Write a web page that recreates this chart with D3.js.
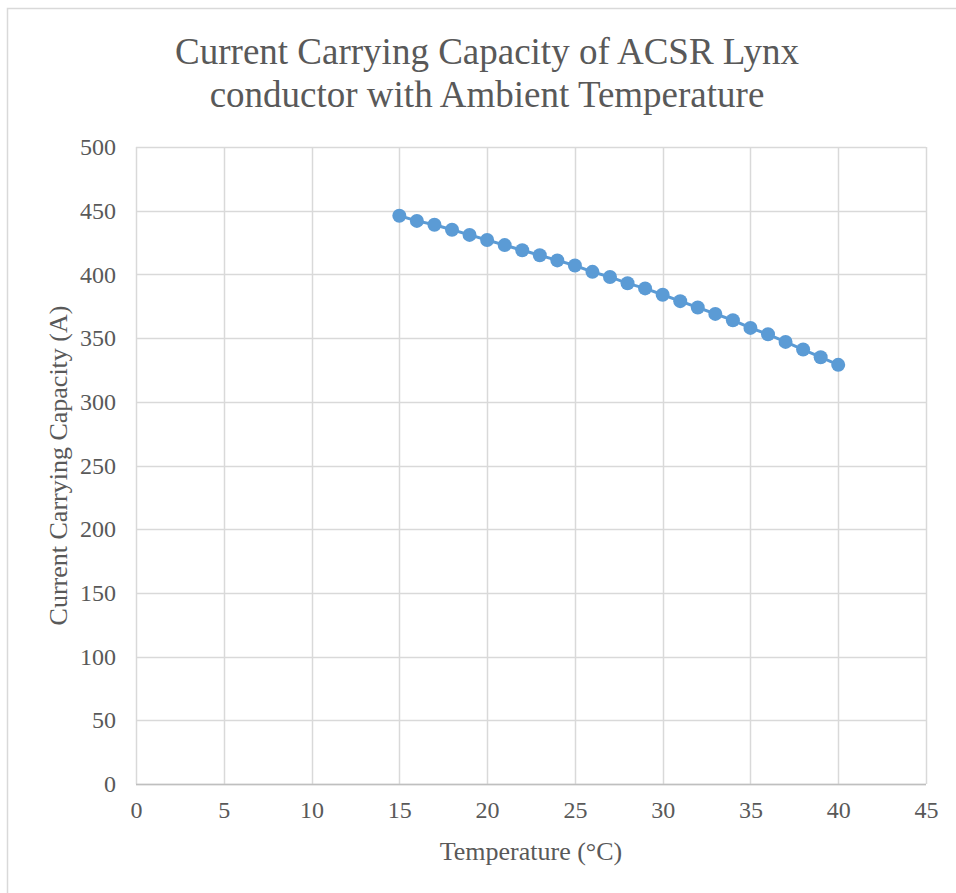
<!DOCTYPE html>
<html>
<head>
<meta charset="utf-8">
<script src="https://cdn.jsdelivr.net/npm/d3@7"></script>
<style>
  body { margin: 0; background: #fff; }
  text { font-family: "Liberation Serif", "Times New Roman", serif; fill: #595959; }
</style>
</head>
<body>
<div id="chart"></div>
<script>
const temperatures = [15, 16, 17, 18, 19, 20, 21, 22, 23, 24, 25, 26, 27, 28, 29, 30, 31, 32, 33, 34, 35, 36, 37, 38, 39, 40];
const capacities = [446, 442, 439, 435, 431, 427, 423, 419, 415, 411, 407, 402, 398, 393, 389, 384, 379, 374, 369, 364, 358, 353, 347, 341, 335, 329];
const xTicks = [0, 5, 10, 15, 20, 25, 30, 35, 40, 45];
const yTicks = [0, 50, 100, 150, 200, 250, 300, 350, 400, 450, 500];
const titleLines = ["Current Carrying Capacity of ACSR Lynx", "conductor with Ambient Temperature"];

const data = temperatures.map((t, i) => ({ t: t, c: capacities[i] }));

const width = 956;
const height = 893;
const margin = { top: 147, right: 30, bottom: 109, left: 136 };

const svg = d3.select("#chart")
  .append("svg")
  .attr("width", width)
  .attr("height", height);

// chart frame
svg.append("rect")
  .attr("x", 7.5)
  .attr("y", 8.5)
  .attr("width", width + 10)
  .attr("height", height + 10)
  .attr("fill", "none")
  .attr("stroke", "#d9d9d9")
  .attr("stroke-width", 1.5);

const chartWidth = width - margin.left - margin.right;
const chartHeight = height - margin.top - margin.bottom;

const g = svg.append("g")
  .attr("transform", `translate(${margin.left},${margin.top})`);

const x = d3.scaleLinear().domain([0, 45]).range([0, chartWidth]);
const y = d3.scaleLinear().domain([0, 500]).range([chartHeight, 0]);

// gridlines
g.append("g")
  .selectAll("line")
  .data(yTicks)
  .join("line")
  .attr("x1", 0)
  .attr("x2", chartWidth)
  .attr("y1", d => Math.round(y(d)) + 0.5)
  .attr("y2", d => Math.round(y(d)) + 0.5)
  .attr("stroke", "#d9d9d9")
  .attr("stroke-width", 1.5);

g.append("g")
  .selectAll("line")
  .data(xTicks)
  .join("line")
  .attr("x1", d => Math.round(x(d)) + 0.5)
  .attr("x2", d => Math.round(x(d)) + 0.5)
  .attr("y1", 0)
  .attr("y2", chartHeight)
  .attr("stroke", "#d9d9d9")
  .attr("stroke-width", 1.5);

// bottom axis line
g.append("line")
  .attr("x1", 0)
  .attr("x2", chartWidth)
  .attr("y1", chartHeight + 0.5)
  .attr("y2", chartHeight + 0.5)
  .attr("stroke", "#bfbfbf")
  .attr("stroke-width", 1.5);

// tick labels
const xAxis = g.append("g")
  .attr("transform", `translate(0,${chartHeight})`)
  .call(d3.axisBottom(x).tickValues(xTicks).tickSize(0).tickPadding(17));
xAxis.select(".domain").remove();
xAxis.selectAll("text")
  .style("font-size", "24px")
  .style("font-family", "Liberation Serif, serif")
  .attr("fill", "#595959");

const yAxis = g.append("g")
  .call(d3.axisLeft(y).tickValues(yTicks).tickSize(0).tickPadding(20));
yAxis.select(".domain").remove();
yAxis.selectAll("text")
  .style("font-size", "24px")
  .style("font-family", "Liberation Serif, serif")
  .attr("fill", "#595959");

// series line
g.append("path")
  .datum(data)
  .attr("fill", "none")
  .attr("stroke", "#5b9bd5")
  .attr("stroke-width", 3)
  .attr("d", d3.line().x(d => x(d.t)).y(d => y(d.c)));

g.selectAll("circle")
  .data(data)
  .join("circle")
  .attr("cx", d => x(d.t))
  .attr("cy", d => y(d.c))
  .attr("r", 7)
  .attr("fill", "#5b9bd5");

// title
svg.append("text")
  .attr("x", 487)
  .attr("text-anchor", "middle")
  .style("font-size", "37px")
  .selectAll("tspan")
  .data(titleLines)
  .join("tspan")
  .attr("x", 487)
  .attr("y", (d, i) => 64 + i * 43)
  .text(d => d);

// axis titles
svg.append("text")
  .attr("x", margin.left + chartWidth / 2)
  .attr("y", 860)
  .attr("text-anchor", "middle")
  .style("font-size", "26px")
  .text("Temperature (°C)");

svg.append("text")
  .attr("transform", "rotate(-90)")
  .attr("x", -(margin.top + chartHeight / 2))
  .attr("y", 67)
  .attr("text-anchor", "middle")
  .style("font-size", "26px")
  .text("Current Carrying Capacity (A)");
</script>
</body>
</html>
